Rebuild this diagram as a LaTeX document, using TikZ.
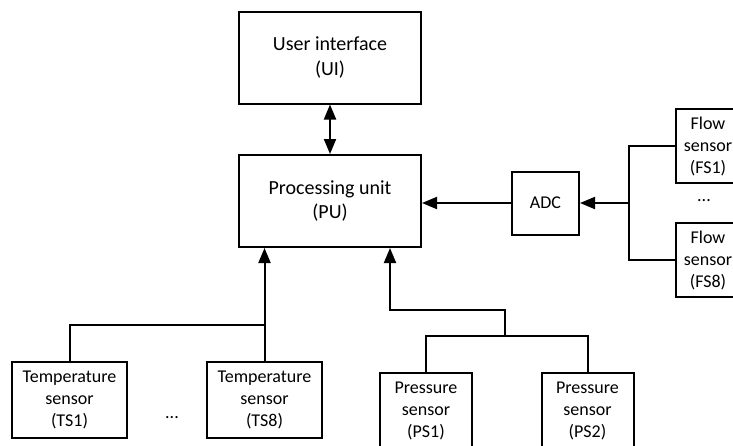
\documentclass[tikz,border=0pt]{standalone}
\usepackage{fontspec}
\setmainfont{Carlito}
\usetikzlibrary{arrows.meta}
\usetikzlibrary{calc}

\begin{document}
\begin{tikzpicture}[x=1pt,y=-1pt,
    box/.style={draw,line width=2pt,align=center,inner sep=0pt,font=\fontsize{18}{22}\selectfont},
    mainbox/.style={box,minimum width=182pt,minimum height=92pt,font=\fontsize{20}{24.4}\selectfont},
    sensorbox/.style={box,minimum height=76pt},
    dots/.style={inner sep=0pt,font=\fontsize{18}{22}\selectfont},
    link/.style={line width=2pt},
    arrow/.style={link,-{Triangle[length=15pt,width=12pt]}},
    dblarrow/.style={link,{Triangle[length=15pt,width=12pt]}-{Triangle[length=15pt,width=12pt]}}]

      \useasboundingbox (0,0) rectangle (733,445);
      \clip (0,0) rectangle (733,445);

      % Main blocks
      \node[mainbox] (UI) at (330,57.5) {User interface\\(UI)};
      \node[mainbox] (PU) at (330,201) {Processing unit\\(PU)};
      \node[box,minimum width=67pt,minimum height=63pt] (ADC) at (545.5,203) {ADC};
      \draw[dblarrow] (UI) -- (PU);

      % Temperature sensors
      \foreach \n/\x in {1/69.5,8/264.5}
      {
        \node[sensorbox,minimum width=115pt] (TS\n) at (\x,400) {Temperature\\sensor\\(TS\n)};
      }
      \node[dots] (TSdots) at (172,418) {...};
      \coordinate (TSjoin) at (264.5,325);
      \draw[link] (TS1.north) |- (TSjoin);
      \draw[arrow] (TS8.north) -- (TS8.north |- PU.south);

      % Pressure sensors
      \foreach \n/\x in {1/426,2/587.5}
      {
        \node[sensorbox,minimum width=92pt] (PS\n) at (\x,411) {Pressure\\sensor\\(PS\n)};
      }
      \coordinate (PSjoin) at (505,336);
      \coordinate (PSbend) at (505,310);
      \draw[link] (PS1.north) |- (PSjoin) -| (PS2.north);
      \draw[arrow] (PSjoin) -- (PSbend) -| ([xshift=60pt]PU.south);

      % Flow sensors
      \foreach \n/\y in {1/146,8/260}
      {
        \node[sensorbox,minimum width=64pt,minimum height=74pt] (FS\n) at (708,\y) {Flow\\sensor\\(FS\n)};
      }
      \node[dots] (FSdots) at (704,201) {...};
      \coordinate (FSjoin) at (629,203);
      \draw[link] (FS1.west) -| (FSjoin) |- (FS8.west);
      \draw[arrow] (FSjoin) -- (ADC.east);
      \draw[arrow] (ADC.west) -- (ADC.west -| PU.east);
\end{tikzpicture}
\end{document}
